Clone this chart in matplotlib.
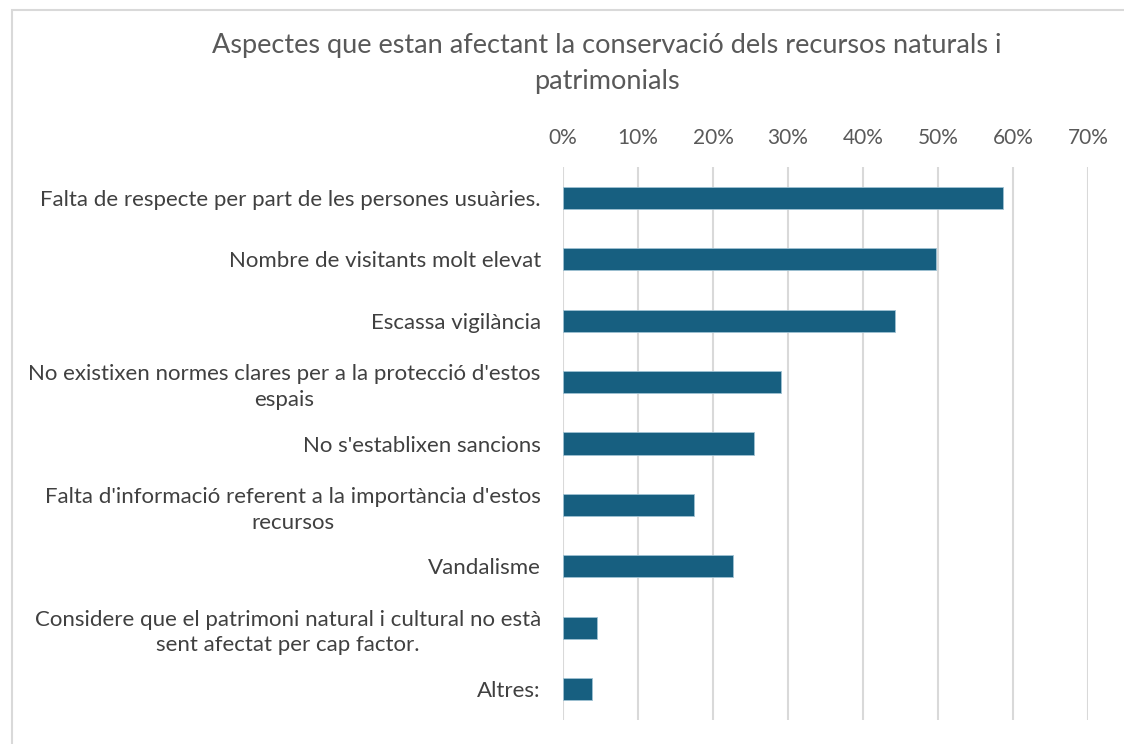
import matplotlib
matplotlib.use('Agg')
import matplotlib.pyplot as plt
from matplotlib.patches import Rectangle
from matplotlib.ticker import PercentFormatter

matplotlib.rc('font', family='Lato')

categories = [
    'Falta de respecte per part de les persones usuàries.',
    'Nombre de visitants molt elevat',
    'Escassa vigilància',
    "No existixen normes clares per a la protecció d'estos\nespais",
    "No s'establixen sancions",
    "Falta d'informació referent a la importància d'estos\nrecursos",
    'Vandalisme',
    'Considere que el patrimoni natural i cultural no està\nsent afectat per cap factor.',
    'Altres:',
]
values = [58.7, 49.7, 44.2, 29.1, 25.5, 17.4, 22.6, 4.5, 3.9]
ticks = [0, 10, 20, 30, 40, 50, 60, 70]

W, H = 1124, 744
fig = plt.figure(figsize=(W / 100, H / 100), dpi=100)
ax = fig.add_axes([563 / W, 1 - 720 / H, (1088 - 563) / W, (720 - 167) / H])

# chart area border (cut off on the right and bottom)
fig.patches.append(Rectangle((11.5 / W, -0.1), 1.2, 1 - 9.5 / H + 0.1,
                             transform=fig.transFigure, fill=False,
                             edgecolor='#d9d9d9', linewidth=1.5, zorder=0))

pos = range(len(categories))
ax.barh(pos, values, height=0.36, color='#175f80', edgecolor='#9fc2d3',
        linewidth=0.6, zorder=3)
ax.set_ylim(len(categories) - 0.5, -0.5)
ax.set_xlim(0, 70)
ax.set_xticks(ticks)
ax.xaxis.set_major_formatter(PercentFormatter(decimals=0))
ax.xaxis.tick_top()
ax.tick_params(axis='x', length=0, pad=14, labelsize=15, labelcolor='#595959')
ax.set_yticks(list(pos))
ax.set_yticklabels(categories, fontsize=16, color='#404040',
                   multialignment='center', linespacing=1.35)
ax.tick_params(axis='y', length=0, pad=16)
ax.grid(axis='x', color='#d9d9d9', linewidth=1.5, zorder=0)
for s in ax.spines.values():
    s.set_visible(False)

fig.text(607 / W, 1 - 64 / H,
         'Aspectes que estan afectant la conservació dels recursos naturals i\npatrimonials',
         ha='center', va='center', fontsize=19.5, color='#595959',
         linespacing=1.55)

fig.savefig('out.png', dpi=100)
